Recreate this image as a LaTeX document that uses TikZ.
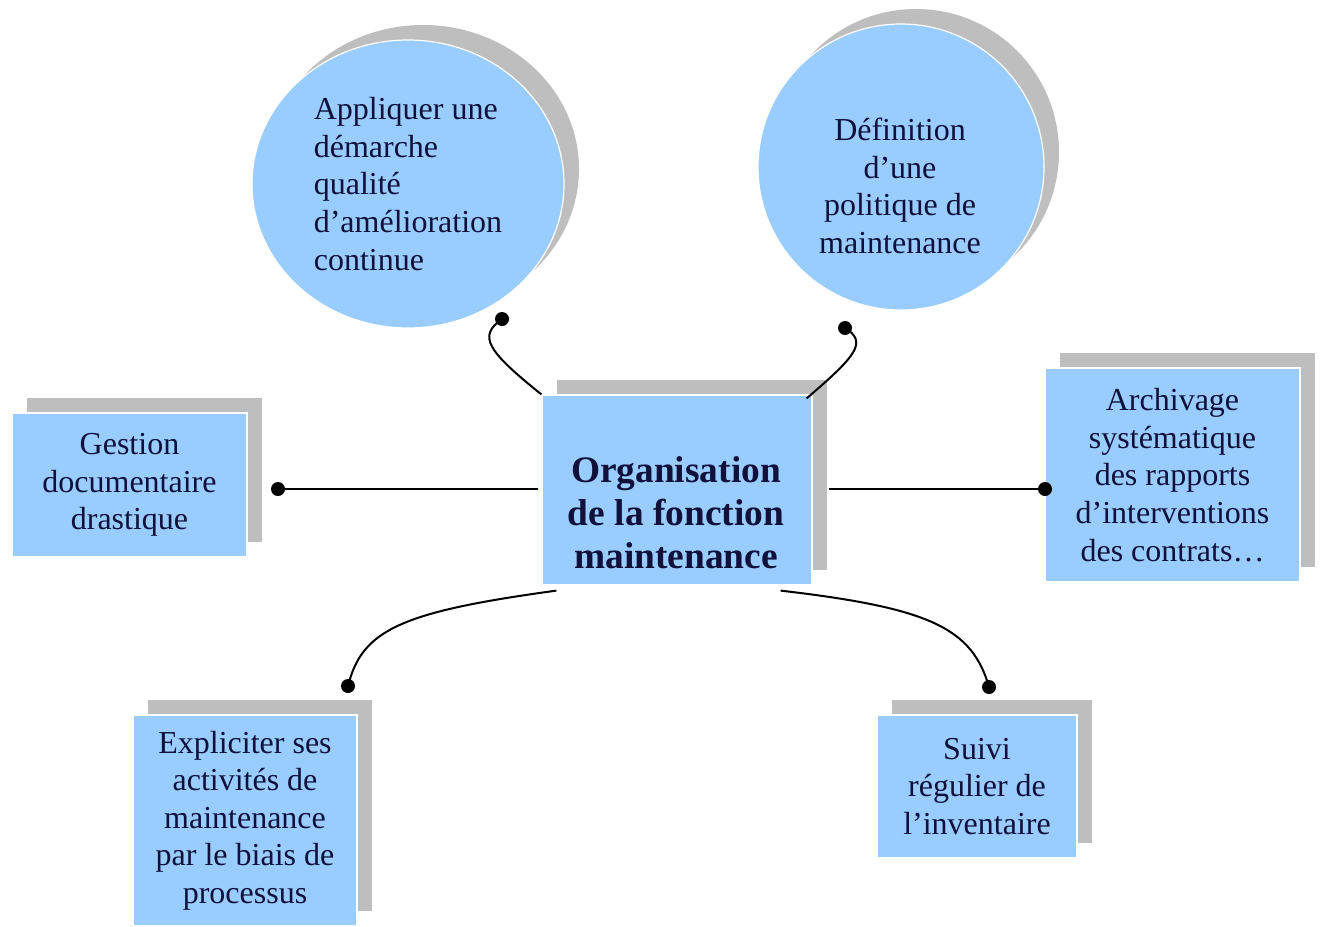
\documentclass[tikz,border=0pt]{standalone}
\usepackage{fontspec}
\setmainfont{Liberation Serif}
\usetikzlibrary{shapes.geometric,shadows}
\definecolor{boxblue}{HTML}{99CCFF}
\definecolor{shgray}{HTML}{BEBEBE}
\definecolor{txt}{HTML}{10103A}
\begin{document}
\begin{tikzpicture}[x=0.5pt,y=-0.5pt,
  sh/.style={drop shadow={shadow xshift=7.5pt,shadow yshift=7.5pt,fill=shgray,opacity=1}},
  blk/.style={rectangle, fill=boxblue, draw=white, line width=0.6pt, inner sep=0pt, text=txt, align=center, font=\fontsize{16}{18.8}\selectfont, sh},
  oval/.style={ellipse, fill=boxblue, draw=white, line width=0.6pt, inner sep=0pt, text=txt, font=\fontsize{16}{18.8}\selectfont, sh},
  lbl/.style={text=txt, inner sep=0pt, align=center, font=\fontsize{16}{18.8}\selectfont},
  dot/.style={circle, fill=black, inner sep=0pt, minimum size=7pt},
  link/.style={draw=black, line width=1pt}]
\fill[white] (0,0) rectangle (1320,926);
\useasboundingbox (0,0) rectangle (1320,926);

% shapes
\node[oval, minimum width=156pt, minimum height=144pt, align=left] (qual) at (408,184)
  {Appliquer une\\démarche\\qualité\\d’amélioration\\continue};
\node[oval, minimum width=143pt, minimum height=143pt] (pol) at (901,167) {};
\node[lbl] (polt) at (900,186) {Définition\\d’une\\politique de\\maintenance};

\node[blk, minimum width=135pt, minimum height=95pt] (ctr) at (677,490) {};
\node[lbl, font=\bfseries\fontsize{18.7}{21.5}\selectfont] (ctrt) at (676,513)
  {Organisation\\de la fonction\\maintenance};

\node[blk, minimum width=117.5pt, minimum height=72pt] (gest) at (129.5,485)
  {Gestion\\documentaire\\drastique};
\node[blk, minimum width=127.5pt, minimum height=107pt] (arch) at (1172.5,475)
  {Archivage\\systématique\\des rapports\\d’interventions\\des contrats…};
\node[blk, minimum width=112pt, minimum height=105.5pt] (expl) at (245,820.5)
  {Expliciter ses\\activités de\\maintenance\\par le biais de\\processus};
\node[blk, minimum width=100pt, minimum height=71.5pt] (suivi) at (977,786.5)
  {Suivi\\régulier de\\l’inventaire};

% dots
\node[dot] (d1) at (502,319) {};
\node[dot] (d2) at (845,328) {};
\node[dot] (d3) at (278,489) {};
\node[dot] (d4) at (1045,489) {};
\node[dot] (d5) at (348,686) {};
\node[dot] (d6) at (989,687) {};

% connectors
\draw[link] (d1.center) .. controls (478,336) and (486,350) .. (ctr.north west);
\draw[link] (d2.center) .. controls (868,342) and (856,356) .. ([shift={(-6,4)}]ctr.north east);
\draw[link] ([shift={(-3,-1)}]ctr.west) -- (d3.center);
\draw[link] ([shift={(16,-1)}]ctr.east) -- (d4.center);
\draw[link] ([shift={(15,5)}]ctr.south west) .. controls (400,612) and (362,630) .. (d5.center);
\draw[link] ([shift={(-32,5)}]ctr.south east) .. controls (930,608) and (972,628) .. (d6.center);
\end{tikzpicture}
\end{document}
